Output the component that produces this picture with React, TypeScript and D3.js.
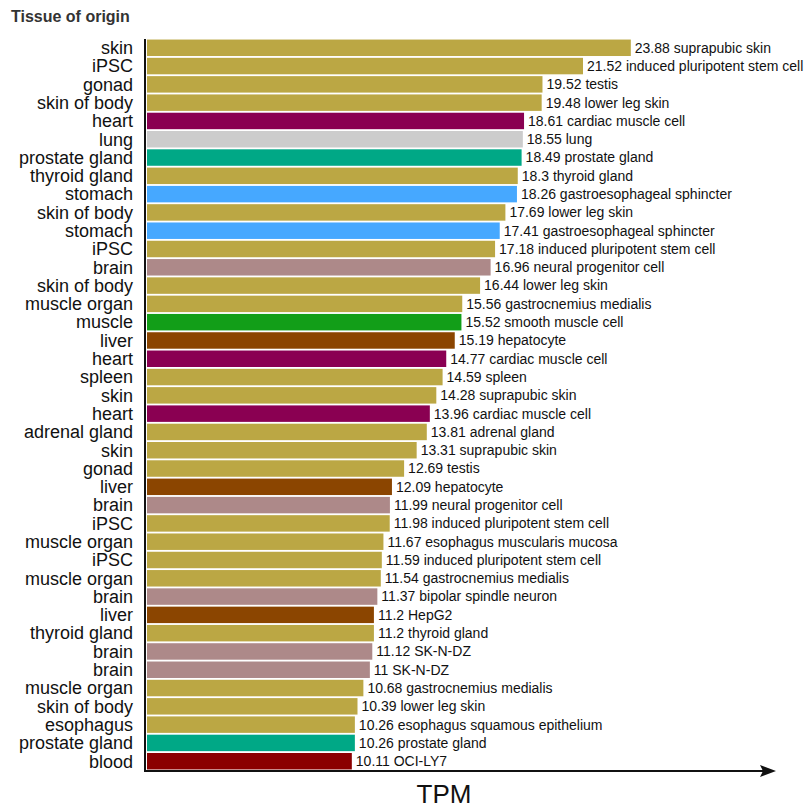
import React from "react";
import * as d3 from "d3";

const tissues = [
  "skin", "iPSC", "gonad", "skin of body", "heart", "lung", "prostate gland", "thyroid gland",
  "stomach", "skin of body", "stomach", "iPSC", "brain", "skin of body", "muscle organ", "muscle",
  "liver", "heart", "spleen", "skin", "heart", "adrenal gland", "skin", "gonad", "liver", "brain",
  "iPSC", "muscle organ", "iPSC", "muscle organ", "brain", "liver", "thyroid gland", "brain", "brain",
  "muscle organ", "skin of body", "esophagus", "prostate gland", "blood",
];

const values = [
  23.88, 21.52, 19.52, 19.48, 18.61, 18.55, 18.49, 18.3, 18.26, 17.69, 17.41, 17.18, 16.96, 16.44,
  15.56, 15.52, 15.19, 14.77, 14.59, 14.28, 13.96, 13.81, 13.31, 12.69, 12.09, 11.99, 11.98, 11.67,
  11.59, 11.54, 11.37, 11.2, 11.2, 11.12, 11, 10.68, 10.39, 10.26, 10.26, 10.11,
];

const samples = [
  "suprapubic skin", "induced pluripotent stem cell", "testis", "lower leg skin", "cardiac muscle cell",
  "lung", "prostate gland", "thyroid gland", "gastroesophageal sphincter", "lower leg skin",
  "gastroesophageal sphincter", "induced pluripotent stem cell", "neural progenitor cell", "lower leg skin",
  "gastrocnemius medialis", "smooth muscle cell", "hepatocyte", "cardiac muscle cell", "spleen",
  "suprapubic skin", "cardiac muscle cell", "adrenal gland", "suprapubic skin", "testis", "hepatocyte",
  "neural progenitor cell", "induced pluripotent stem cell", "esophagus muscularis mucosa",
  "induced pluripotent stem cell", "gastrocnemius medialis", "bipolar spindle neuron", "HepG2",
  "thyroid gland", "SK-N-DZ", "SK-N-DZ", "gastrocnemius medialis", "lower leg skin",
  "esophagus squamous epithelium", "prostate gland", "OCI-LY7",
];

const colorKeys = ["heart", "lung", "prostate gland", "stomach", "brain", "muscle", "liver", "blood"];
const colorValues = ["#8a0052", "#cccccc", "#00a886", "#46a8ff", "#ad8989", "#129e18", "#8b4500", "#8b0000"];
const defaultColor = "#bba744";

export default function App() {
  const W = 809, H = 809;
  const x0 = 147;
  const x = d3.scaleLinear().domain([0, 24]).range([x0, x0 + 24 * 20.26]);
  const rows = d3.range(tissues.length);
  const y = d3.scaleBand<number>().domain(rows).range([39, 770]).paddingInner(0.1).paddingOuter(0.03);
  const colorOf = (t: string) => {
    const i = colorKeys.indexOf(t);
    return i >= 0 ? colorValues[i] : defaultColor;
  };
  const axisY = 771;
  const font = "Helvetica, Arial, 'Liberation Sans', sans-serif";

  return (
    <svg width={W} height={H} style={{ position: "absolute", left: 0, top: 0, background: "#fff" }}
      fontFamily={font}>
      <text x={11} y={22} fontSize={16} fontWeight="bold" fill="#333">Tissue of origin</text>
      {rows.map((i) => (
        <g key={i}>
          <rect x={x(0)} y={y(i)} width={x(values[i]) - x(0)} height={y.bandwidth()} fill={colorOf(tissues[i])} />
          <text x={133} y={(y(i) as number) + y.bandwidth() / 2} dy="0.35em" textAnchor="end"
            fontSize={18} fill="#111">{tissues[i]}</text>
          <text x={x(values[i]) + 4} y={(y(i) as number) + y.bandwidth() / 2} dy="0.35em"
            fontSize={14} fill="#111">{`${values[i]} ${samples[i]}`}</text>
        </g>
      ))}
      <line x1={145} x2={145} y1={39} y2={axisY} stroke="#111" strokeWidth={2} />
      <line x1={144} x2={766} y1={axisY} y2={axisY} stroke="#111" strokeWidth={2} />
      <path d={`M776,${axisY} L760,${axisY - 6} L763,${axisY} L760,${axisY + 6} Z`} fill="#111" />
      <text x={444} y={803} textAnchor="middle" fontSize={26} fill="#111">TPM</text>
    </svg>
  );
}
